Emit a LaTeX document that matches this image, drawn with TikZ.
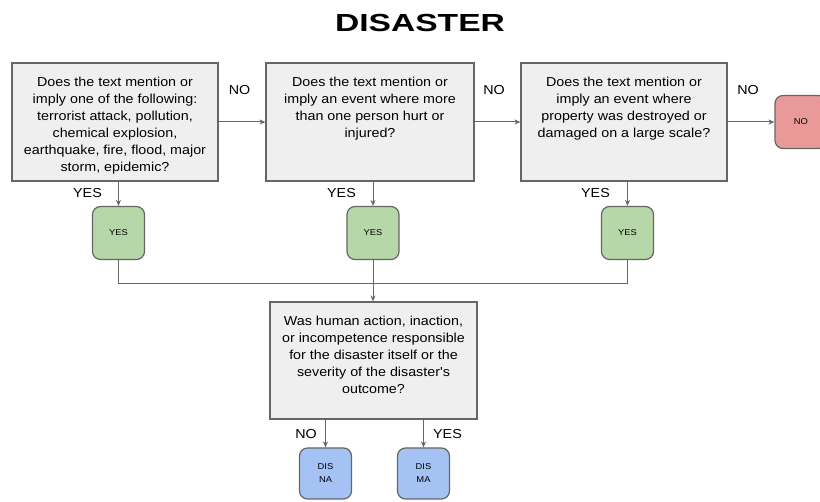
\documentclass[tikz,border=0pt]{standalone}
\usepackage{fontspec}
\setmainfont{Liberation Sans}
\newfontfamily\bodyfont{Liberation Sans}[FakeStretch=1.1]
\newfontfamily\headfont{Liberation Sans}[FakeStretch=1.36]
\usetikzlibrary{arrows.meta}

\definecolor{qfill}{HTML}{EFEFEF}
\definecolor{edge}{HTML}{666666}
\definecolor{okfill}{HTML}{B6D7A8}
\definecolor{nofill}{HTML}{EA9999}
\definecolor{disfill}{HTML}{A4C2F4}

% question text: fixed-size box, lines centred and hung from the top
\newcommand{\qtext}[3]{\parbox[c][#2pt][t]{#1pt}{\centering\fontsize{13}{17}\selectfont\rule{0pt}{24pt}#3\par}}

\tikzset{
  qbox/.style={draw=edge, line width=1.2pt, fill=qfill, inner sep=0pt, font=\bodyfont},
  outcome/.style={draw=edge, line width=1.2pt, rounded corners=8pt, inner sep=0pt,
    minimum width=52pt, minimum height=53pt, align=center,
    font=\bodyfont\fontsize{8.5}{13}\selectfont},
  yesbox/.style={outcome, fill=okfill},
  nobox/.style={outcome, fill=nofill},
  disbox/.style={outcome, fill=disfill, minimum height=51pt},
  link/.style={draw=edge, line width=1pt},
  arrow/.style={link, -{Stealth[length=6pt,width=5pt]}},
  tag/.style={inner sep=0pt, anchor=base, font=\bodyfont\fontsize{13}{15}\selectfont},
}

\begin{document}
\begin{tikzpicture}[x=1pt, y=-1pt]
\clip (0,0) rectangle (820,502);
\fill[white] (0,0) rectangle (820,502);

% heading
\node[inner sep=0pt, anchor=base, font=\headfont\bfseries\fontsize{24.7}{28}\selectfont] (title) at (420,32) {DISASTER};

% three screening questions
\node[qbox] (q1) at (115,122) {\qtext{206}{118}{Does the text mention or\\ imply one of the following:\\ terrorist attack, pollution,\\ chemical explosion,\\ earthquake, fire, flood, major\\ storm, epidemic?}};
\node[qbox] (q2) at (370,122) {\qtext{208}{118}{Does the text mention or\\ imply an event where more\\ than one person hurt or\\ injured?}};
\node[qbox] (q3) at (624,122) {\qtext{206}{118}{Does the text mention or\\ imply an event where\\ property was destroyed or\\ damaged on a large scale?}};

% outcomes of the screening
\node[yesbox] (g1) at (118.5,233) {YES};
\node[yesbox] (g2) at (373,233) {YES};
\node[yesbox] (g3) at (627.5,233) {YES};
\node[nobox] (r) at (801,122) {NO};

% responsibility question
\node[qbox] (q4) at (373.5,360.5) {\qtext{207}{117}{Was human action, inaction,\\ or incompetence responsible\\ for the disaster itself or the\\ severity of the disaster's\\ outcome?}};

\node[disbox] (d1) at (325.5,473.5) {DIS\\NA};
\node[disbox] (d2) at (423.5,473.5) {DIS\\MA};

% NO chain
\draw[arrow] (q1.east) -- (q2.west);
\draw[arrow] (q2.east) -- (q3.west);
\draw[arrow] (q3.east) -- (r.west);
\node[tag] (n1) at (239.5,95) {NO};
\node[tag] (n2) at (494,95) {NO};
\node[tag] (n3) at (748,95) {NO};

% YES branches
\draw[arrow] (g1.north |- q1.south) -- (g1.north);
\draw[arrow] (g2.north |- q2.south) -- (g2.north);
\draw[arrow] (g3.north |- q3.south) -- (g3.north);
\node[tag, anchor=base east] (y1) at (102,198) {YES};
\node[tag, anchor=base east] (y2) at (356,198) {YES};
\node[tag, anchor=base east] (y3) at (610,198) {YES};

% merge into the responsibility question
\coordinate (j) at (373,284);
\draw[link] (g1.south) -- (g1.south |- j) -- (g3.south |- j) -- (g3.south);
\draw[link] (g2.south) -- (j);
\draw[arrow] (j) -- (q4.north -| j);

% final split
\draw[arrow] (d1.north |- q4.south) -- (d1.north);
\draw[arrow] (d2.north |- q4.south) -- (d2.north);
\node[tag, anchor=base east] (n4) at (317,439) {NO};
\node[tag, anchor=base west] (y4) at (433,439) {YES};
\end{tikzpicture}
\end{document}
